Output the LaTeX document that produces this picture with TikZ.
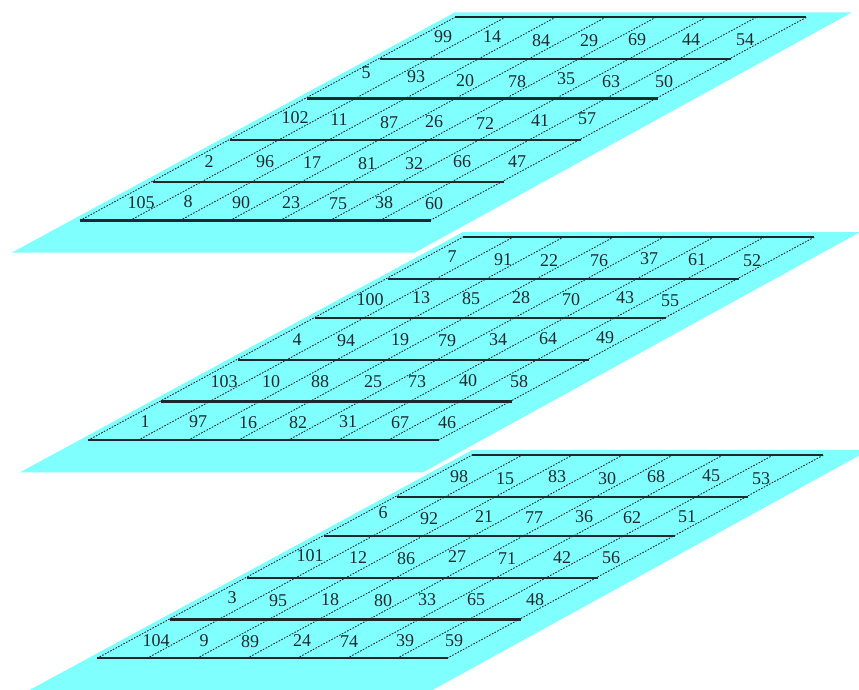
\documentclass[tikz,border=0pt]{standalone}
\usepackage{fontspec}
\setmainfont{Liberation Serif}
\definecolor{plate}{RGB}{128,255,255}
\definecolor{ink}{RGB}{30,40,45}
\tikzset{
  plate/.style={fill=plate,draw=none},
  rowline/.style={draw=ink,line width=2.05pt},
  diagline/.style={draw=ink,line width=0.9pt,dash pattern=on 1.6pt off 1.4pt},
  num/.style={inner sep=0pt,text=ink,font=\fontsize{18}{18}\selectfont}
}
\newcommand{\layergrid}[3]{%
  % #1 = layer name, #2 = x shift, #3 = y shift
  \begin{scope}[shift={(#2,#3)}]
    \fill[plate] (12,252.5) -- (415,252.5) -- (852,12.3) -- (455,12.3) -- cycle;
    \foreach \r/\yy/\xx in {0/220.5/80,1/181.7/153,2/140/230,3/98.5/306.5,4/59/380,5/17.3/455}{
      \coordinate (#1L\r) at (\xx,\yy);
      \coordinate (#1R\r) at (\xx+351,\yy);
      \draw[rowline] (#1L\r) -- (#1R\r);
    }
    \foreach \i in {0,...,7}{
      \coordinate (#1B\i) at (80+\i*50.0,220.5);
      \coordinate (#1T\i) at (455+\i*50.2,17.3);
      \draw[diagline] (#1B\i) -- (#1T\i);
    }
  \end{scope}}
\begin{document}
\begin{tikzpicture}[x=1pt,y=-1pt]
\useasboundingbox (0,0) rectangle (859,689);
\clip (0,0) rectangle (859,689);
\layergrid{a}{0}{0}
\layergrid{b}{8}{219.8}
\layergrid{c}{17}{437.8}
\foreach \t/\x/\y in {
99/443/37,14/492/37,84/541/41,29/589/41,69/637/40,44/691/40,54/745/40,
5/366/73,93/416/77,20/465/81,78/517/82,35/566/79,63/611/82,50/664/82,
102/295/118,11/339/120,87/389/123,26/434/122,72/485/124,41/540/121,57/587/119,
2/209/162,96/265/162,17/312/163,81/367/164,32/414/164,66/462/162,47/517/162,
105/141/203,8/188/202,90/241/203,23/291/203,75/338/204,38/384/203,60/434/204,
7/452/257,91/503/260,22/549/261,76/599/261,37/649/259,61/697/260,52/752/261,
100/370/300,13/421/298,85/471/299,28/521/298,70/571/300,43/625/298,55/670/301,
4/297/340,94/346/341,19/400/340,79/447/341,34/498/340,64/548/339,49/605/338,
103/224/382,10/271/382,88/320/382,25/373/382,73/417/382,40/468/381,58/519/382,
1/145/422,97/198/422,16/248/423,82/298/423,31/348/422,67/400/423,46/447/423,
98/459/477,15/505/479,83/557/477,30/607/479,68/656/477,45/711/476,53/761/479,
6/383/513,92/429/519,21/484/517,77/534/518,36/584/517,62/632/518,51/687/517,
101/310/556,12/358/558,86/406/559,27/457/557,71/507/559,42/562/558,56/611/558,
3/232/598,95/278/601,18/330/600,80/383/601,33/427/600,65/476/600,48/535/600,
104/156/641,9/204/641,89/250/642,24/302/641,74/349/642,39/405/641,59/454/641}{
  \node[num] (n\t) at (\x,\y) {\t};
}
\end{tikzpicture}
\end{document}
